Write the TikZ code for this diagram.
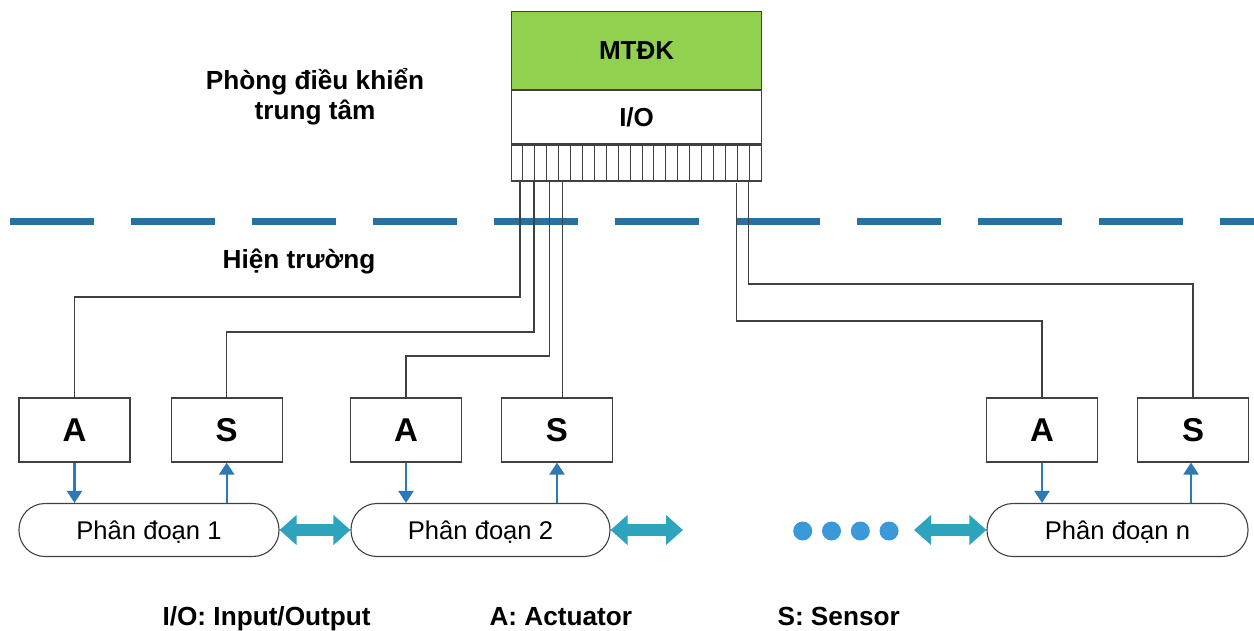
\documentclass[tikz,border=0pt]{standalone}
\usepackage{fontspec}
\setmainfont{Liberation Sans}
\usetikzlibrary{arrows.meta,calc}

\definecolor{ctrlgreen}{HTML}{92D050}
\definecolor{wireline}{HTML}{404040}
\definecolor{fieldblue}{HTML}{2471A3}
\definecolor{signalblue}{HTML}{2E78B4}
\definecolor{busteal}{HTML}{2EA3BE}
\definecolor{dotblue}{HTML}{3A9AD9}

\begin{document}
\begin{tikzpicture}[x=1pt,y=-1pt,
  unitbox/.style={draw=wireline, line width=1.2pt, minimum width=111pt, minimum height=64pt,
    inner sep=0pt, font=\bfseries\fontsize{33}{33}\selectfont, text height=23.5pt, text depth=0pt},
  segment/.style={draw=wireline, line width=1.1pt, rounded corners=26pt, minimum height=53pt,
    inner sep=0pt, font=\fontsize{25.6}{26}\selectfont, text height=18pt, text depth=0pt},
  ctrlpart/.style={draw=wireline, line width=1.2pt, minimum width=250pt, inner sep=0pt,
    anchor=north west, font=\bfseries\fontsize{26}{26}\selectfont},
  wire/.style={draw=wireline, line width=1.1pt},
  signal/.style={draw=signalblue, line width=2.2pt, -{Triangle[length=12pt,width=15pt]}},
  bus/.style={draw=busteal, line width=12pt,
    {Triangle[length=17pt,width=29pt]}-{Triangle[length=17pt,width=29pt]}},
  areatext/.style={font=\bfseries\fontsize{26.2}{30.5}\selectfont},
]
\useasboundingbox (0,0) rectangle (1254,631);

% boundary between control room and field
\draw[fieldblue, line width=7pt, dash pattern=on 83.5pt off 37.5pt] (10,222) -- (1254,222);

% central controller with I/O card and terminal strip
\node[ctrlpart, fill=ctrlgreen, minimum height=78pt] (mtdk) at (511,11) {MTĐK};
\node[ctrlpart, minimum height=53pt] (io) at (mtdk.south west) {I/O};
\node[ctrlpart, minimum height=36pt] (ports) at (io.south west) {};
\foreach \i in {1,...,20}
  \draw[wireline, line width=0.9pt] ($(ports.south west)+(\i*250/21,0)$) -- ($(ports.north west)+(\i*250/21,0)$);

% terminal points
\coordinate (p1) at ($(ports.south west)+(9,0)$);
\coordinate (p2) at ($(ports.south west)+(23,0)$);
\coordinate (p3) at ($(ports.south west)+(38.3,0)$);
\coordinate (p4) at ($(ports.south west)+(51.7,0)$);
\coordinate (p5) at (736.7,183);
\coordinate (p6) at ($(ports.south west)+(237.3,0)$);

% area labels
\node[areatext, align=center, anchor=base] (room) at (315,120) {Phòng điều khiển\\trung tâm};
\node[areatext, anchor=base] (field) at (299,269) {Hiện trường};

% actuators and sensors
\node[unitbox] (A1) at (74.5,430) {A};
\node[unitbox] (S1) at (226.7,430) {S};
\node[unitbox] (A2) at (406,430) {A};
\node[unitbox] (S2) at (557,430) {S};
\node[unitbox] (An) at (1042,430) {A};
\node[unitbox] (Sn) at (1193,430) {S};

% field segments
\node[segment, minimum width=260pt] (seg1) at (149,530) {Phân đoạn 1};
\node[segment, minimum width=259pt] (seg2) at (480.5,530) {Phân đoạn 2};
\node[segment, minimum width=261pt] (segn) at (1117.5,530) {Phân đoạn n};

% wiring from the I/O terminals
\draw[wire] (p1) -- (p1 |- 0,297) -| (A1.north);
\draw[wire] (p2) -- (p2 |- 0,332) -| (S1.north);
\draw[wire] (p3) -- (p3 |- 0,356) -| (A2.north);
\draw[wire] (p4) -- (p4 |- S2.north);
\draw[wire] (p5) -- (p5 |- 0,321) -| (An.north);
\draw[wire] (p6) -- (p6 |- 0,284) -| (Sn.north);

% signals between devices and segments
\draw[signal] (A1.south) -- (A1.south |- seg1.north);
\draw[signal] (S1.south |- seg1.north) -- (S1.south);
\draw[signal] (A2.south) -- (A2.south |- seg2.north);
\draw[signal] (S2.south |- seg2.north) -- (S2.south);
\draw[signal] (An.south) -- (An.south |- segn.north);
\draw[signal] ([xshift=-2pt]Sn.south |- segn.north) -- ([xshift=-2pt]Sn.south);

% links between segments
\coordinate (bus2end) at (683,530);
\coordinate (bus3start) at (914,530);
\draw[bus] (seg1.east) -- (seg2.west);
\draw[bus] (seg2.east) -- (bus2end);
\draw[bus] (bus3start) -- (segn.west);

% further segments
\foreach \x in {802.7,831.5,860.3,889}
  \fill[dotblue] (\x,531) circle[radius=9.5pt];

% legend
\node[areatext, anchor=base west] (lgio) at (159,625) {I/O: Input/Output};
\node[areatext, anchor=base west] (lga) at (486,625) {A: Actuator};
\node[areatext, anchor=base west] (lgs) at (774,625) {S: Sensor};
\end{tikzpicture}
\end{document}
